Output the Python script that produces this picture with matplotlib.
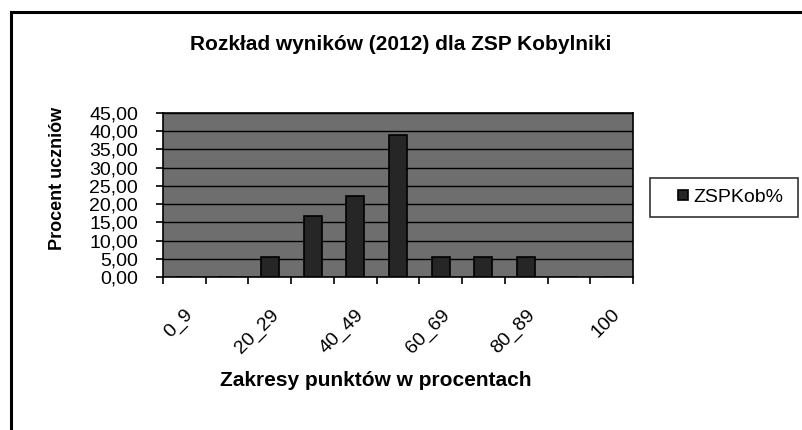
import matplotlib
matplotlib.use("Agg")
import matplotlib.pyplot as plt
from matplotlib.lines import Line2D
from matplotlib.patches import Rectangle
from matplotlib.legend_handler import HandlerPatch
import numpy as np

plt.rcParams['font.family'] = ['Liberation Sans', 'DejaVu Sans']

categories = ["0_9", "10_19", "20_29", "30_39", "40_49", "50_59",
              "60_69", "70_79", "80_89", "90_99", "100"]
values = [0.0, 0.0, 5.56, 16.67, 22.22, 38.89, 5.56, 5.56, 5.56, 0.0, 0.0]
series_name = "ZSPKob%"
title = "Rozkład wyników (2012) dla ZSP Kobylniki"
xlabel = "Zakresy punktów w procentach"
ylabel = "Procent uczniów"
yticks = [0, 5, 10, 15, 20, 25, 30, 35, 40, 45]

W, H = 802, 430
fig = plt.figure(figsize=(W / 100, H / 100), dpi=100)
fig.patch.set_facecolor('white')

L, R, T, B = 163, 633, 113, 277
ax = fig.add_axes([L / W, 1 - B / H, (R - L) / W, (B - T) / H])
ax.set_facecolor('#6e6e6e')

x = np.arange(len(categories))
bars = ax.bar(x, values, width=0.42, color='#262626', edgecolor='black',
              linewidth=1.2, zorder=3, label=series_name)

ax.set_xlim(-0.5, len(categories) - 0.5)
ax.set_ylim(0, 45)
ax.set_yticks(yticks)
ax.set_yticklabels([f"{v:.2f}".replace('.', ',') for v in yticks], fontsize=14)
ax.yaxis.grid(True, color='black', linewidth=1.0, zorder=1)
ax.set_axisbelow(True)

ax.set_xticks(x)
ax.set_xticklabels([c if i % 2 == 0 else "" for i, c in enumerate(categories)],
                   fontsize=14, rotation=45, ha='right', va='top',
                   rotation_mode='anchor')
ax.set_xticks(np.arange(len(categories) + 1) - 0.5, minor=True)
ax.tick_params(axis='x', which='major', length=0, pad=21)
ax.tick_params(axis='x', which='minor', length=5, width=1.2, direction='out')
ax.tick_params(axis='y', length=5, width=1.2, direction='out', pad=13)
for s in ax.spines.values():
    s.set_linewidth(1.2)
    s.set_color('black')

fig.text(401 / W, 1 - 45 / H, title, fontsize=15, fontweight='bold',
         ha='center', va='center')
fig.text(376 / W, 1 - 380 / H, xlabel, fontsize=15, fontweight='bold',
         ha='center', va='center')
fig.text(57 / W, 1 - 178 / H, ylabel, fontsize=13, fontweight='bold',
         ha='center', va='center', rotation=90)


def square_at_right(legend, orig_handle, xdescent, ydescent, width, height, fontsize):
    s = 10 * 72 / 100.0  # ~10 px square, in points
    return Rectangle((width - s - xdescent, -ydescent + (height - s) / 2), s, s)


leg = fig.legend(handles=[bars.patches[2]], labels=[series_name], loc='center',
                 bbox_to_anchor=(650 / W, 1 - 217 / H, 148 / W, 39 / H),
                 mode='expand', borderaxespad=0,
                 frameon=True, fancybox=False, edgecolor='black',
                 fontsize=14, handlelength=1.41, handleheight=0.55,
                 handletextpad=0.26, borderpad=0.55,
                 handler_map={Rectangle: HandlerPatch(patch_func=square_at_right)})
leg.get_frame().set_linewidth(1.2)

# chart outer border (scanned page shows left and top edges)
fig.add_artist(Line2D([10.5 / W, 10.5 / W], [0, 1 - 11.5 / H],
                      transform=fig.transFigure, color='black', lw=2.2))
fig.add_artist(Line2D([10.5 / W, 1], [1 - 11.5 / H, 1 - 11.5 / H],
                      transform=fig.transFigure, color='black', lw=2.2))

fig.savefig("out.png", dpi=100)
